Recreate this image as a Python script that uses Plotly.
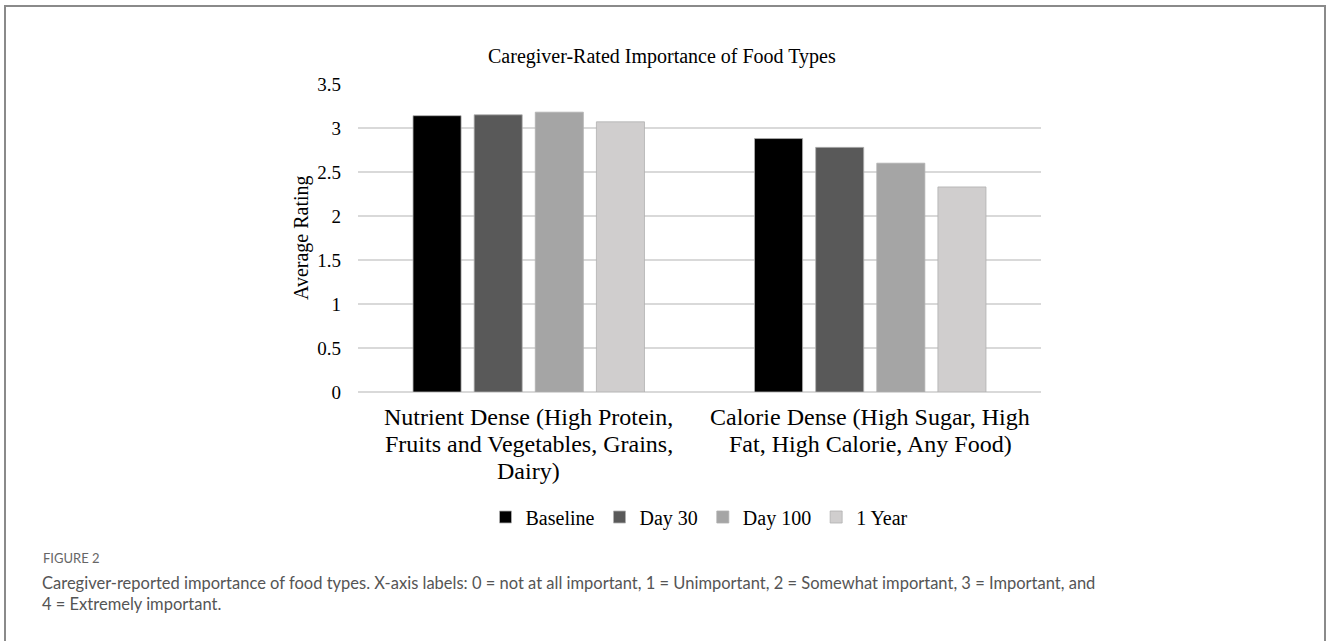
import plotly.graph_objects as go

categories = [
    "Nutrient Dense (High Protein,<br>Fruits and Vegetables, Grains,<br>Dairy)",
    "Calorie Dense (High Sugar, High<br>Fat, High Calorie, Any Food)",
]
series_names = ["Baseline", "Day 30", "Day 100", "1 Year"]
baseline = [3.14, 2.88]
day30 = [3.15, 2.78]
day100 = [3.18, 2.60]
one_year = [3.07, 2.33]
series_values = [baseline, day30, day100, one_year]
colors = ["#000000", "#595959", "#a5a5a5", "#d0cece"]
y_ticks = [0, 0.5, 1, 1.5, 2, 2.5, 3, 3.5]
y_tick_labels = ["0", "0.5", "1", "1.5", "2", "2.5", "3", "3.5"]

W, H = 1328, 641
L, R, T, B = 358, 1041, 84, 392
pw, ph = R - L, B - T


def px(x):
    return (x - L) / pw


def py(y):
    return (B - y) / ph


serif = "Liberation Serif, Times New Roman, serif"
sans = "Lato, Noto Sans, sans-serif"

fig = go.Figure()
for name, vals, col in zip(series_names, series_values, colors):
    fig.add_trace(go.Bar(
        name=name, x=categories, y=vals,
        marker=dict(color=col, line=dict(color="#b0b0b0", width=0.8)),
    ))

fig.update_layout(
    width=W, height=H,
    margin=dict(l=L, r=W - R, t=T, b=H - B),
    paper_bgcolor="white", plot_bgcolor="white",
    barmode="group", bargap=0.284, bargroupgap=0.214,
    showlegend=True,
    legend=dict(orientation="h", x=0.5, xanchor="center", y=py(517), yanchor="middle",
                font=dict(family=serif, size=20, color="#000"),
                itemwidth=30, tracegroupgap=0, traceorder="normal"),
    font=dict(family=serif, color="#000"),
)
fig.update_xaxes(showgrid=False, showline=False, ticks="", showticklabels=False)
fig.update_yaxes(range=[0, 3.5], tickvals=y_ticks, ticktext=y_tick_labels,
                 showgrid=True, gridcolor="#d9d9d9", gridwidth=1.5,
                 zeroline=True, zerolinecolor="#d9d9d9", zerolinewidth=1.5,
                 showline=False, ticks="",
                 tickfont=dict(family=serif, size=19, color="#000"),
                 ticklabelstandoff=16)

# category labels (one annotation per line, tighter line spacing like the source)
for cat in categories:
    for i, line in enumerate(cat.split("<br>")):
        fig.add_annotation(text=line, xref="x", yref="paper", x=cat, y=py(417 + 27 * i),
                           xanchor="center", yanchor="middle", showarrow=False,
                           font=dict(family=serif, size=24, color="#000"))

# title
fig.add_annotation(text="Caregiver-Rated Importance of Food Types",
                   xref="paper", yref="paper", x=px(662), y=py(56),
                   xanchor="center", yanchor="middle", showarrow=False,
                   font=dict(family=serif, size=20, color="#000"))
# y axis title
fig.add_annotation(text="Average Rating", textangle=-90,
                   xref="paper", yref="paper", x=px(301), y=py(238),
                   xanchor="center", yanchor="middle", showarrow=False,
                   font=dict(family=serif, size=20, color="#000"))
# figure caption
fig.add_annotation(text="FIGURE 2", xref="paper", yref="paper",
                   x=px(41), y=py(558), xanchor="left", yanchor="middle",
                   showarrow=False, font=dict(family=sans, size=13, color="#666"))
fig.add_annotation(
    text="Caregiver-reported importance of food types. X-axis labels: 0 = not at all important, 1 = Unimportant, 2 = Somewhat important, 3 = Important, and<br>4 = Extremely important.",
    xref="paper", yref="paper", x=px(40), y=py(571), xanchor="left", yanchor="top",
    align="left", showarrow=False,
    font=dict(family=sans, size=16.5, color="#555"))

# outer border
fig.add_shape(type="rect", xref="paper", yref="paper",
              x0=px(5), x1=px(1325), y0=py(660), y1=py(6),
              line=dict(color="#8a8a8a", width=2), fillcolor="rgba(0,0,0,0)", layer="above")

fig.write_html("out.html", config={"displayModeBar": False},
               post_script="document.body.style.margin='0';")
